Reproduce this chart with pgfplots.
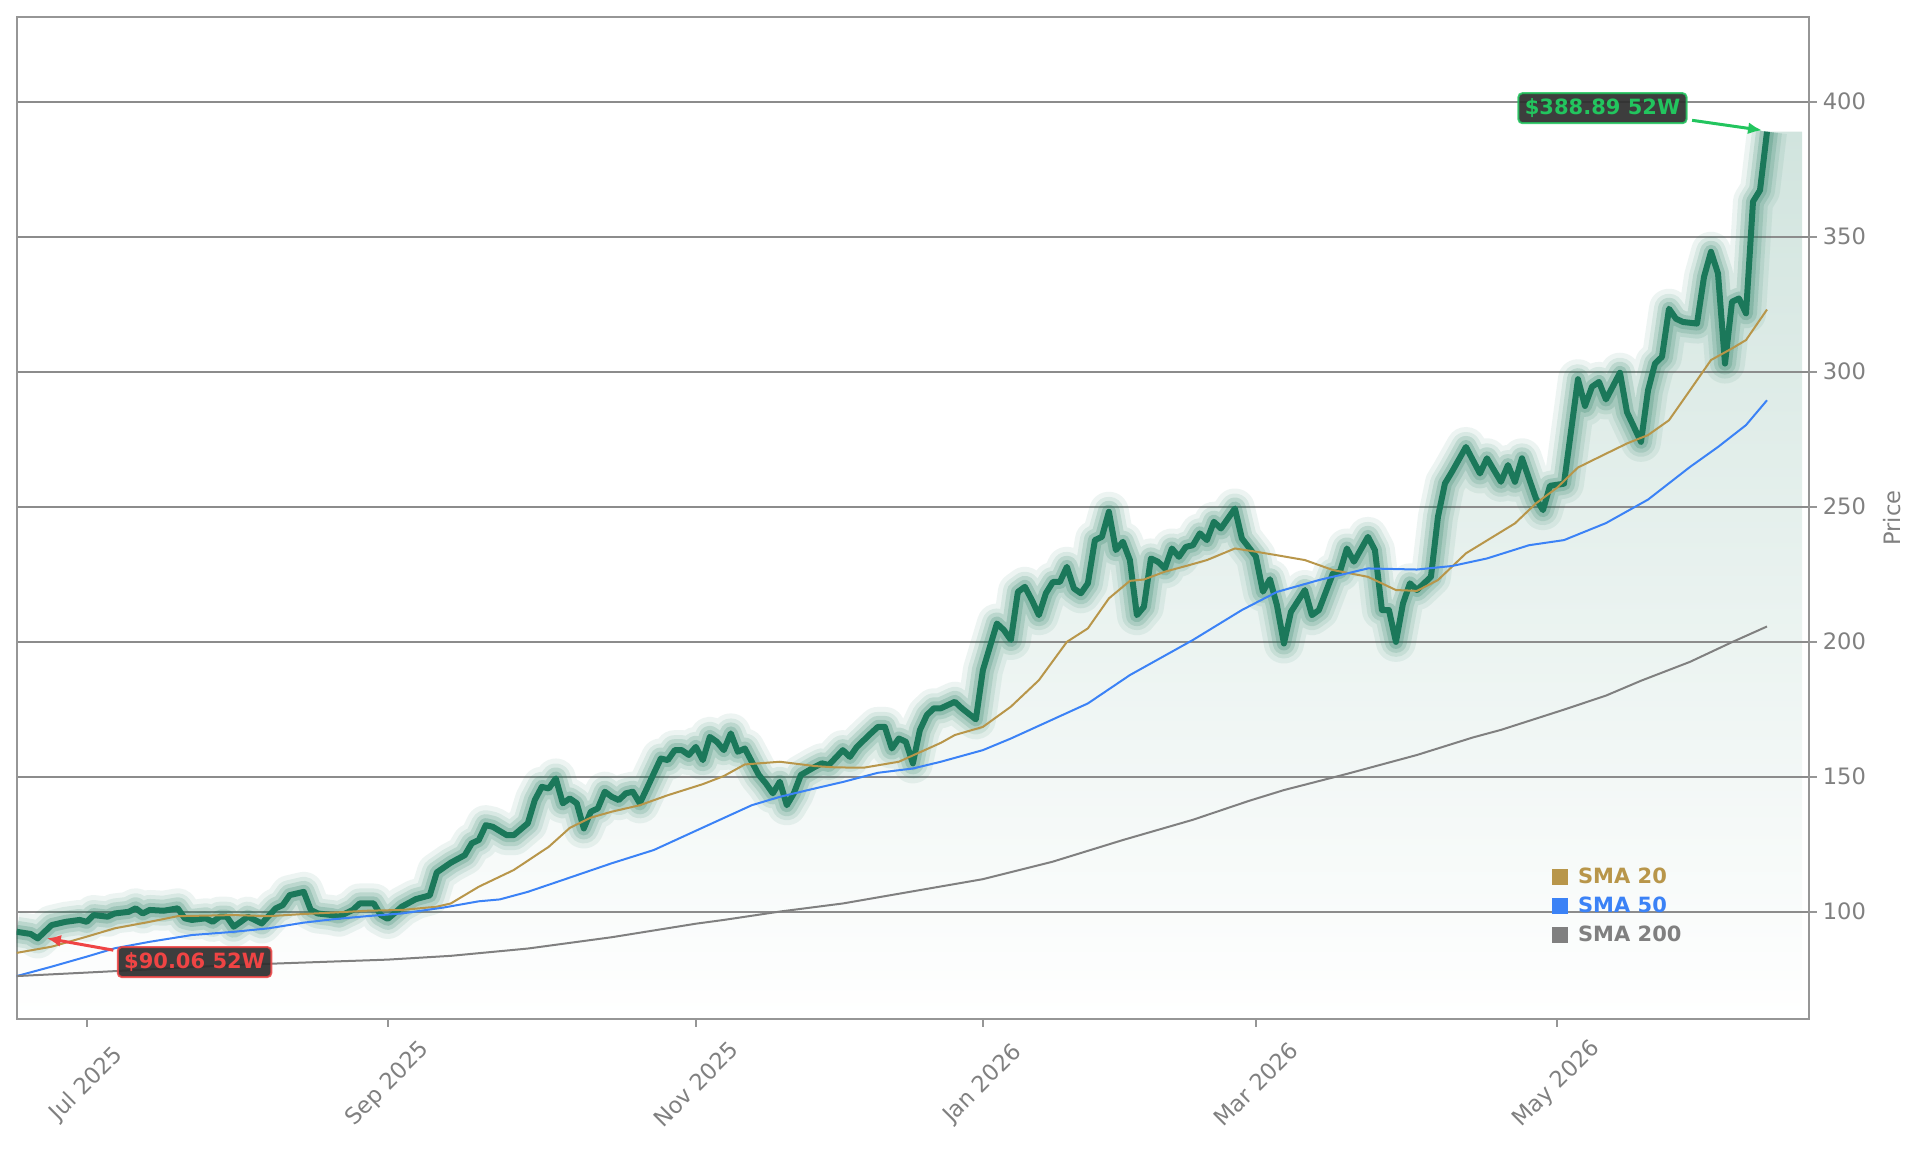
\documentclass[border=0pt]{standalone}
\usepackage{fontspec}
\setmainfont{DejaVu Sans}
\usepackage{pgfplots}
\usepackage{pgfplotstable}
\pgfplotsset{compat=1.18}
\usetikzlibrary{arrows.meta}
\definecolor{pricegreen}{RGB}{27,120,90}
\definecolor{fillgreen}{RGB}{209,228,222}
\definecolor{smagold}{RGB}{184,150,74}
\definecolor{smablue}{RGB}{59,130,246}
\definecolor{smagray}{RGB}{128,128,128}
\definecolor{axgray}{RGB}{150,150,150}
\definecolor{gridgray}{RGB}{140,140,140}
\definecolor{labgray}{RGB}{128,128,128}
\definecolor{upgreen}{RGB}{34,197,94}
\definecolor{downred}{RGB}{239,68,68}
\definecolor{boxbg}{RGB}{45,45,45}

\pgfplotstableread{
i v
0 92.5
2 91.7
3 90.06
5 95.0
7 96.2
9 96.9
10 96.2
11 98.7
13 98.1
14 99.3
16 99.9
17 101.2
18 99.3
19 100.6
21 100.3
23 101.2
24 97.5
25 96.9
27 97.5
28 96.2
29 98.1
30 98.1
31 94.4
32 96.2
33 98.1
34 96.9
35 95.6
37 101.2
38 102.4
39 106.1
41 107.3
42 100.6
43 99.3
45 98.7
46 98.1
48 100.6
49 103.0
51 103.0
52 98.7
53 97.3
54 99.5
55 101.8
57 104.6
59 106.0
60 114.5
62 118.1
64 120.9
65 125.3
66 126.5
67 132.0
68 131.4
70 128.3
71 128.3
73 132.7
74 141.3
75 146.2
76 145.6
77 149.3
78 140.1
79 141.9
80 140.1
81 130.8
82 137.0
83 138.2
84 144.4
85 142.5
86 141.3
87 143.8
88 144.4
89 140.1
90 145.6
91 151.2
92 156.7
93 156.1
94 159.8
95 159.8
96 158.0
97 161.0
98 156.1
99 164.7
100 162.9
101 159.8
102 166.0
103 159.2
104 160.4
106 150.6
107 147.5
108 143.8
109 148.1
110 139.4
111 143.8
112 150.6
114 153.6
115 154.9
116 154.3
118 159.8
119 157.3
120 161.0
122 166.0
123 168.4
124 168.4
125 160.4
126 164.1
127 162.9
128 154.9
129 167.2
130 172.8
131 175.3
132 175.3
134 177.7
135 175.3
137 171.2
138 189.4
140 206.7
141 204.3
142 200.6
143 218.4
144 220.3
145 215.4
146 209.8
147 217.9
148 222.1
149 222.1
150 227.7
151 219.7
152 217.9
153 221.6
154 237.6
155 238.8
156 248.1
157 233.9
158 237.0
159 230.2
160 209.8
161 212.9
162 230.8
163 229.6
164 227.1
165 234.5
166 231.4
167 235.1
168 235.7
169 240.1
170 237.6
171 244.4
172 241.9
174 249.3
175 238.2
177 231.5
178 218.5
179 223.1
180 213.5
181 199.3
182 211.0
184 219.1
185 209.8
186 211.7
188 225.3
189 225.9
190 234.5
191 229.6
193 238.8
194 233.9
195 211.7
196 211.7
197 199.9
198 214.1
199 221.6
200 219.1
202 224.0
203 246.2
204 258.6
205 262.9
207 272.1
209 262.3
210 267.9
212 259.2
213 265.4
214 259.2
215 267.9
217 253.0
218 248.7
219 257.7
221 258.5
223 297.2
224 287.3
225 294.4
226 296.2
227 289.7
229 299.6
230 285.0
232 274.0
233 293.0
234 303.0
235 305.5
236 323.3
237 319.6
238 318.4
240 317.8
241 335.1
242 344.4
243 336.4
244 303.0
245 325.9
246 327.1
247 321.6
248 363.0
249 367.2
250 388.89
}\price

\pgfplotstableread{
i v
0 84.7
5 87.0
10 90.7
14 93.8
19 96.2
23 98.3
31 98.7
36 98.3
41 99.1
45 99.6
50 100.3
55 100.6
60 101.8
62 103.0
64 106.1
66 109.2
71 115.4
76 124.0
79 131.0
82 134.8
85 137.0
89 139.4
93 143.1
98 147.2
101 150.2
104 154.5
109 155.5
114 153.9
117 153.4
121 153.3
126 155.5
132 162.5
134 165.4
138 168.4
142 175.9
146 185.7
150 199.9
153 204.9
156 216.0
159 222.5
161 223.0
164 225.9
167 228.0
170 230.2
174 234.5
177 233.3
180 232.0
184 230.2
188 226.5
193 224.0
197 219.1
200 218.8
203 222.8
207 232.7
214 243.8
217 251.2
220 257.0
223 264.5
227 269.6
230 273.4
233 276.5
236 282.0
239 293.1
242 304.3
245 308.6
247 311.7
250 323.0
}\smatwenty

\pgfplotstableread{
i v
0 76.1
5 79.6
10 83.3
14 86.4
19 88.8
25 91.3
31 92.5
36 93.8
41 95.9
45 97.1
50 98.3
55 99.3
61 101.5
66 103.8
69 104.5
73 107.3
78 111.7
85 117.9
91 122.8
99 132.3
105 139.4
109 142.5
114 145.6
118 148.0
123 151.4
128 153.0
132 155.5
138 159.8
142 164.1
153 177.1
159 187.6
168 200.6
175 211.7
180 218.4
186 222.8
193 227.1
200 226.7
205 228.0
210 230.8
216 235.7
221 237.6
227 243.9
233 252.6
239 264.7
243 272.1
247 280.2
250 289.4
}\smafifty

\pgfplotstableread{
i v
0 76.1
10 77.4
31 80.2
53 82.2
62 83.6
73 86.3
85 90.5
97 95.5
101 96.9
109 100.0
118 103.0
128 107.5
138 112.0
148 118.5
158 126.5
168 134.0
176 141.0
181 145.0
190 151.0
200 158.0
208 164.5
212 167.3
221 174.8
227 180.0
232 185.5
239 192.5
245 199.8
250 205.6
}\smatwohundred

\begin{document}
\begin{tikzpicture}
\begin{axis}[
  set layers,
  scale only axis,
  width=896.15pt, height=500.9pt,
  xmin=0, xmax=256, ymin=60.2, ymax=431.3,
  axis line style={axgray, line width=1pt},
  xtick={10,53,97,138,177,220},
  xticklabels={Jul 2025,Sep 2025,Nov 2025,Jan 2026,Mar 2026,May 2026},
  ytick={100,150,200,250,300,350,400},
  xtick pos=lower, ytick pos=right,
  yticklabel pos=right,
  ymajorgrids,
  grid style={gridgray, line width=1pt},
  tick align=outside,
  major tick length=3.85pt,
  tick style={axgray, line width=1pt},
  /pgf/number format/assume math mode=true,
  ticklabel style={font=\fontsize{11.3}{13}\selectfont, text=labgray},
  xticklabel style={yshift=-28.75pt, rotate=45, anchor=center, inner sep=0pt},
  yticklabel style={anchor=west, inner sep=0pt, xshift=2.85pt},
  ylabel={Price},
  ylabel style={at={(axis description cs:1,0.5)}, anchor=center, yshift=-41.35pt, font=\fontsize{11.3}{13}\selectfont, text=labgray, inner sep=0pt},
]
% gradient fill under the price
\addplot[on layer=axis background, draw=none, top color=fillgreen, bottom color=white]
  table[x=i, y=v] {\price} -- (axis cs:255,388.89) -- (axis cs:255,60.2) -- (axis cs:0,60.2) -- cycle;
% glow
\addplot[pricegreen, line width=20pt, opacity=0.08, line join=round] table[x=i, y=v] {\price};
\addplot[pricegreen, line width=15pt, opacity=0.10, line join=round] table[x=i, y=v] {\price};
\addplot[pricegreen, line width=11pt, opacity=0.15, line join=round] table[x=i, y=v] {\price};
\addplot[pricegreen, line width=7pt, opacity=0.20, line join=round] table[x=i, y=v] {\price};
\addplot[pricegreen, line width=3pt, line join=round] table[x=i, y=v] {\price};
% moving averages
\addplot[smagold, line width=1pt] table[x=i, y=v] {\smatwenty};
\addplot[smablue, line width=1pt] table[x=i, y=v] {\smafifty};
\addplot[smagray, line width=1pt] table[x=i, y=v] {\smatwohundred};
% legend
\node[anchor=west, inner sep=0pt, font=\bfseries\fontsize{10.5}{12}\selectfont, text=smagold] at (axis cs:219.2,112.9) {\rule[-0.8pt]{8.35pt}{8pt}\hspace{4.8pt}SMA 20};
\node[anchor=west, inner sep=0pt, font=\bfseries\fontsize{10.5}{12}\selectfont, text=smablue] at (axis cs:219.2,102.4) {\rule[-0.8pt]{8.35pt}{8pt}\hspace{4.8pt}SMA 50};
\node[anchor=west, inner sep=0pt, font=\bfseries\fontsize{10.5}{12}\selectfont, text=smagray] at (axis cs:219.2,91.6) {\rule[-0.8pt]{8.35pt}{8pt}\hspace{4.8pt}SMA 200};
% annotations
\draw[upgreen, line width=1.5pt, -{Latex[length=7pt,width=6pt]}] (axis cs:239.3,393.1) -- (axis cs:249.3,389.4);
\node[fill=boxbg, fill opacity=0.92, text opacity=1, draw=upgreen, draw opacity=0.85, line width=1pt, rounded corners=2pt, text=upgreen, font=\bfseries\fontsize{10.5}{12}\selectfont, inner xsep=3.2pt, inner ysep=0pt, minimum height=15pt] at (axis cs:226.5,397.6) {\$388.89 52W};
\draw[downred, line width=1.5pt, -{Latex[length=7pt,width=6pt]}] (axis cs:13.8,85.7) -- (axis cs:4.3,90.1);
\node[fill=boxbg, fill opacity=0.92, text opacity=1, draw=downred, draw opacity=0.85, line width=1pt, rounded corners=2pt, text=downred, font=\bfseries\fontsize{10.5}{12}\selectfont, inner xsep=3.2pt, inner ysep=0pt, minimum height=15pt] at (axis cs:25.4,81.3) {\$90.06 52W};
\end{axis}
\useasboundingbox (-8.35pt,-67pt) rectangle (952.15pt,509.5pt);
\end{tikzpicture}
\end{document}
